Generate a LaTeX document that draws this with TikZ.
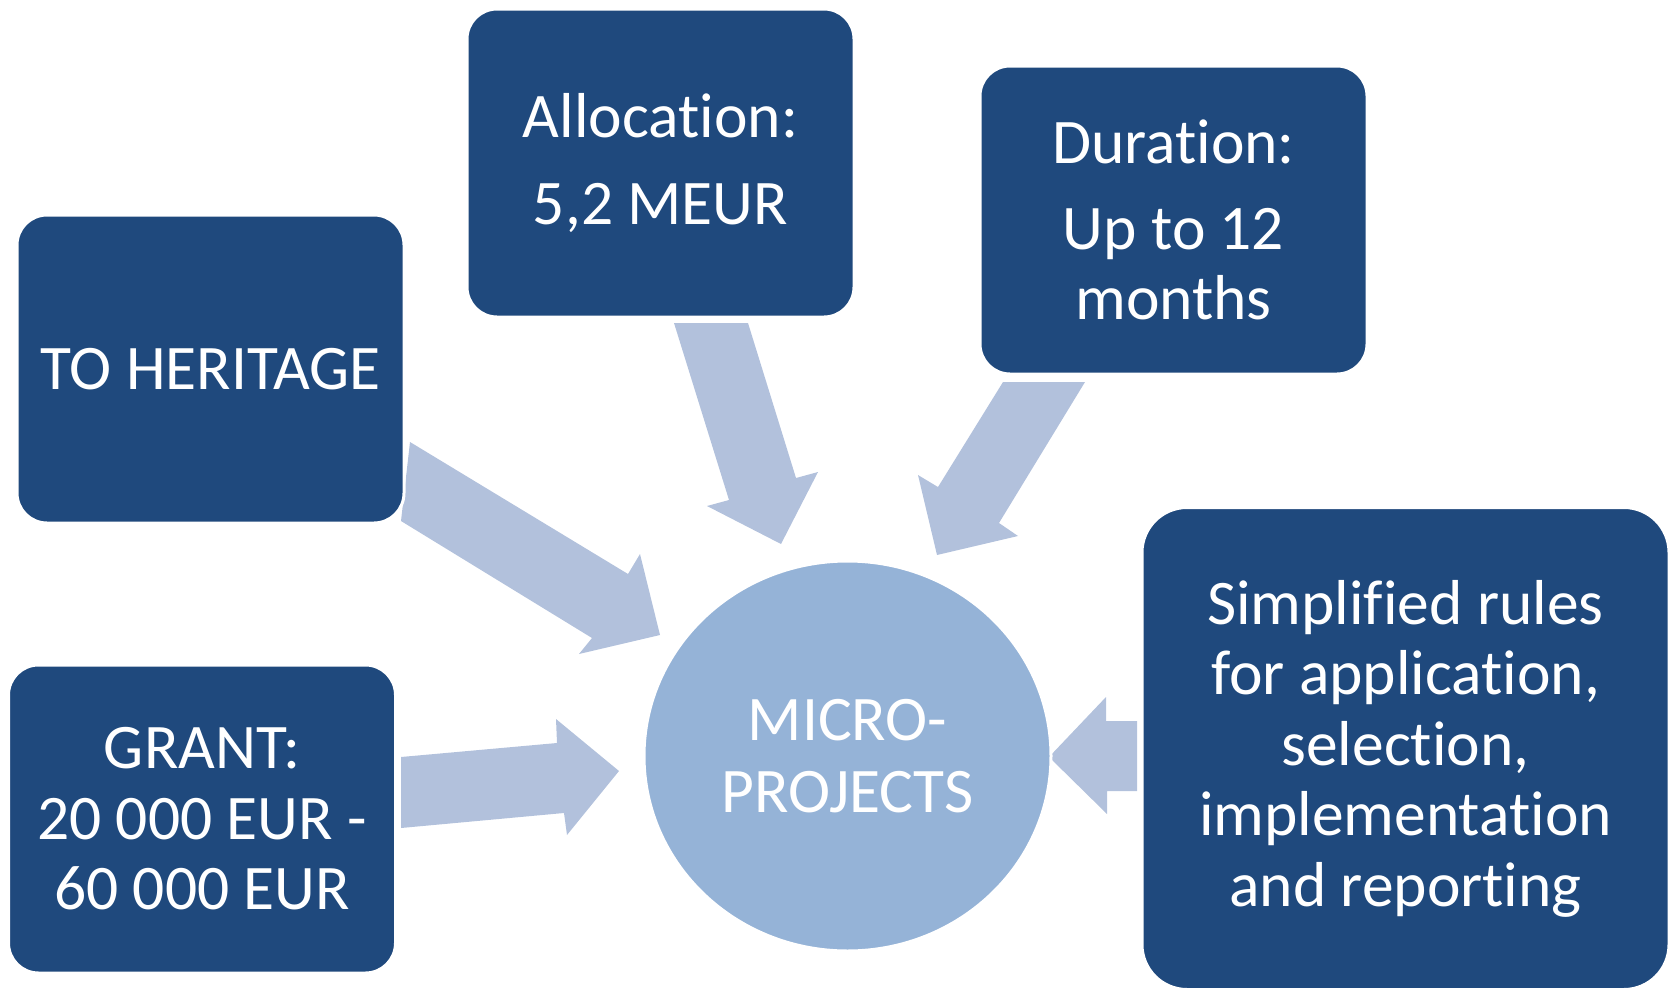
\documentclass[tikz,border=0pt]{standalone}
\usepackage{fontspec}
\setmainfont{Carlito}[Ligatures={NoCommon}]
\usetikzlibrary{shapes.geometric}
\definecolor{boxblue}{HTML}{1F497D}
\definecolor{arrowblue}{HTML}{B2C1DC}
\definecolor{circblue}{HTML}{95B3D7}
\begin{document}
\begin{tikzpicture}[x=1pt,y=-1pt,
  infobox/.style={draw=white, line width=3pt, fill=boxblue, rounded corners=30pt,
    minimum width=387pt, minimum height=308pt, inner sep=0pt, align=center,
    text=white, font=\fontsize{63.5}{70.5}\selectfont},
  blockarrow/.style={fill=arrowblue},
  hub/.style={ellipse, draw=white, line width=3pt, fill=circblue, inner sep=0pt,
    minimum width=407pt, minimum height=390pt, align=center, text=white,
    font=\fontsize{63.5}{72}\selectfont}]
\useasboundingbox (0,0) rectangle (1671,988);
% block arrows
\fill[blockarrow] (410,442) -- (628,574) -- (640,554) -- (660,635) -- (579,654) -- (592,638) -- (401,521) -- cycle;
\fill[blockarrow] (401,757) -- (557,743) -- (556,719) -- (619,771) -- (567,835) -- (564,813) -- (401,828) -- cycle;
\fill[blockarrow] (1137,721) -- (1106,721) -- (1106,697) -- (1049,757) -- (1107,814) -- (1107,791) -- (1137,791) -- cycle;
\fill[blockarrow] (674,323) -- (748,323) -- (796,478) -- (818,472) -- (781,544) -- (707,506) -- (729,500) -- cycle;
\fill[blockarrow] (1003,382) -- (1085,382) -- (999,523) -- (1018,536) -- (937,555) -- (918,475) -- (938,487) -- cycle;
% hub
\node[hub] (hub) at (847.5,756) {MICRO-\\PROJECTS};
% boxes
\node[infobox] (heritage) at (210.5,369) {TO HERITAGE};
\node[infobox] (alloc) at (660.5,163) {Allocation:\\[16.5pt]5,2 MEUR};
\node[infobox] (duration) at (1173.5,220) {Duration:\\[15.5pt]Up to 12\\months};
\node[infobox] (grant) at (202,819) {GRANT:\\20 000 EUR -\\60 000 EUR};
\node[infobox, rounded corners=45pt, minimum width=527pt, minimum height=482pt] (rules) at (1405.5,748.5)
  {Simplified rules\\for application,\\selection,\\implementation\\and reporting};
\end{tikzpicture}
\end{document}
